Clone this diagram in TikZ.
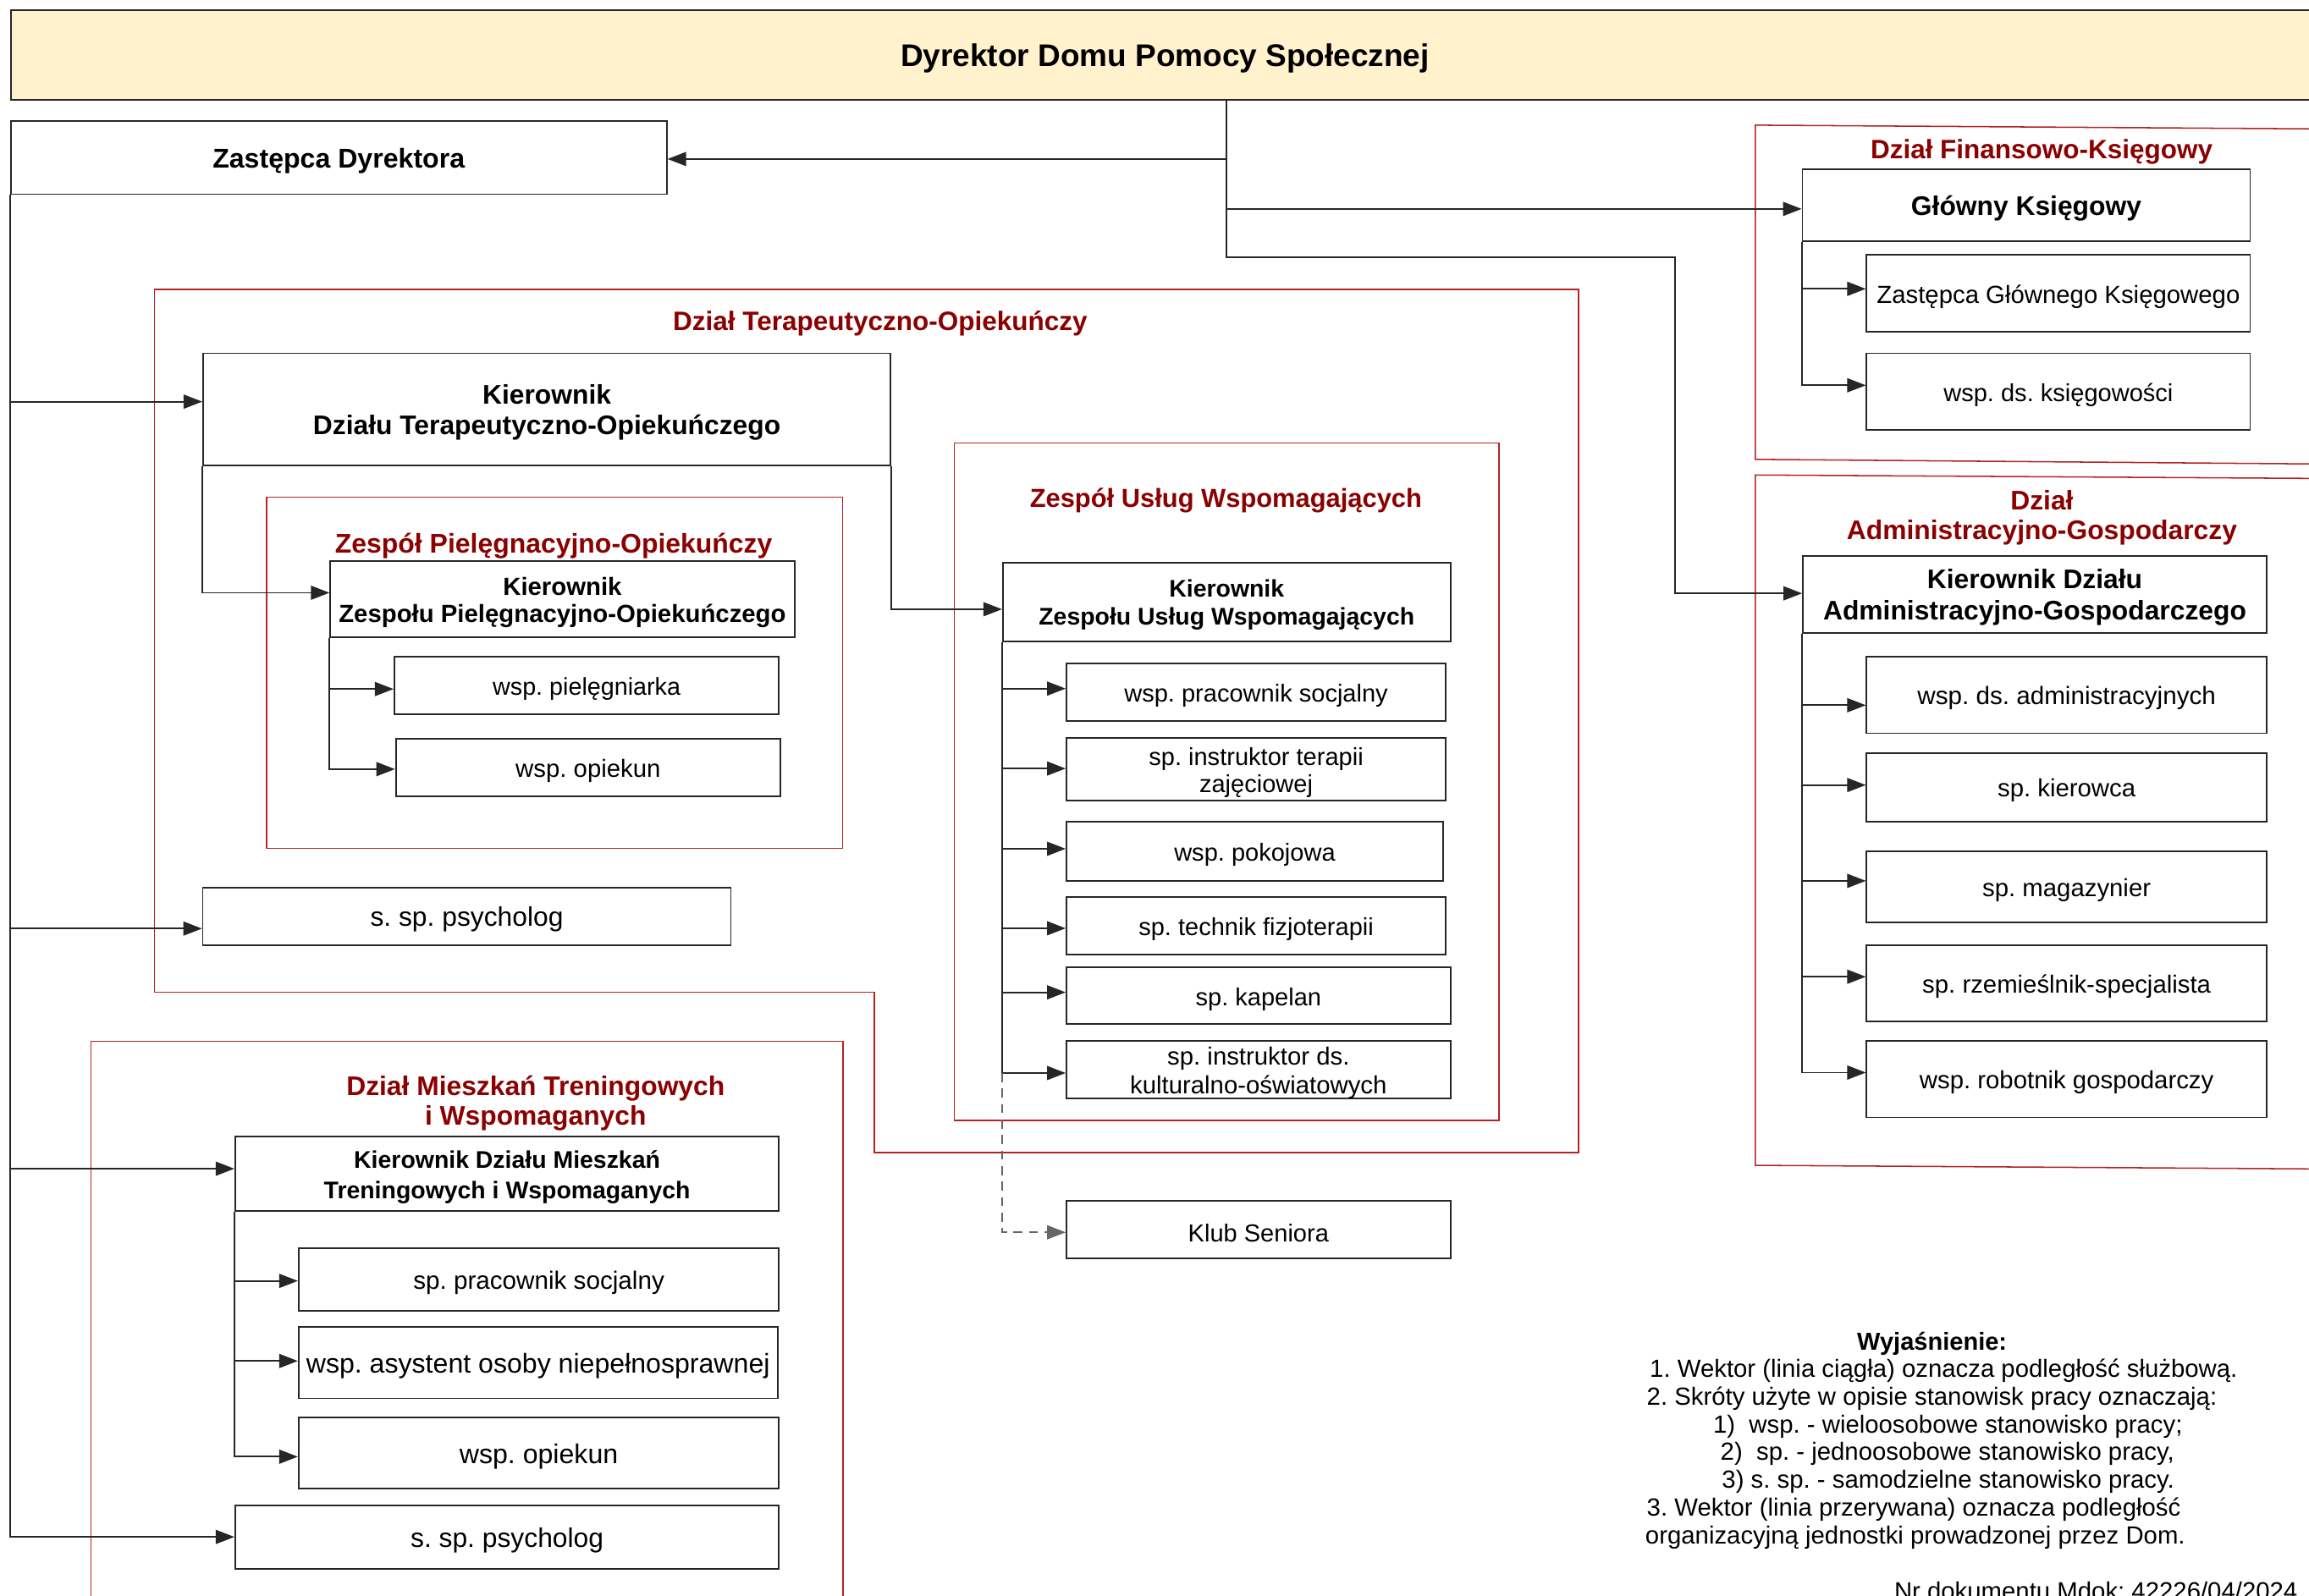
\documentclass[tikz,border=0pt]{standalone}
\usepackage{fontspec}
\setmainfont{Liberation Sans}
\usetikzlibrary{arrows.meta}
\definecolor{ttl}{RGB}{139,0,0}
\definecolor{frm}{RGB}{180,35,35}
\definecolor{yel}{RGB}{255,242,204}
\frenchspacing
\newcommand\fs[2]{\fontsize{#1pt}{#2pt}\selectfont}
\newcommand\bx[7][]{\node[box,minimum width={(#5-#3)*0.02cm},minimum height={(#6-#4)*0.02cm}] (#2) at ({(#3+#5)/2},{(#4+#6)/2}) {};
  \node[btxt,#1] (#2t) at ({(#3+#5)/2},{(#4+#6)/2+2.2}) {#7};}
\begin{document}
\begin{tikzpicture}[x=0.02cm,y=-0.02cm,
  box/.style={draw=black!85,line width=0.6pt,fill=white,inner sep=0pt},
  btxt/.style={inner sep=0pt,align=center},
  frame/.style={draw=frm,line width=0.5pt},
  conn/.style={draw=black!85,line width=0.6pt,-{Triangle[length=7.2pt,width=5.4pt]}},
  ttlt/.style={text=ttl,align=center,inner sep=0pt},
  lg/.style={inner sep=0pt,anchor=west,font=\fs{9.6}{11},text height=0.75em,text depth=0.22em}]
\useasboundingbox (0,0) rectangle (1568,1083.5);
\clip (0,0) rectangle (1568,1083.5);
\fill[white] (0,0) rectangle (1568,1083.5);

% department frames
\draw[frame] (1192,85) -- (1580,87.6) -- (1580,315.2) -- (1192,312) -- cycle;
\draw[frame] (1192,322.6) -- (1580,325) -- (1580,794) -- (1192,791.5) -- cycle;
\draw[frame] (104.8,196.6) -- (1072,196.6) -- (1072,782.8) -- (593.8,782.8) -- (593.8,674) -- (104.8,674) -- cycle;
\draw[frame] (181,337.6) rectangle (572.3,576.3);
\draw[frame] (648,301) rectangle (1018,761);
\draw[frame] (61.7,707.2) rectangle (572.5,1120);

% titles
\node[ttlt,font=\fs{10.3}{12}\bfseries] (tfin) at (1386.4,103.4) {Dział Finansowo-Księgowy};
\node[ttlt,font=\fs{10.4}{11.4}\bfseries] (tadm) at (1386.6,351.4) {Dział\\Administracyjno-Gospodarczy};
\node[ttlt,font=\fs{10.3}{12}\bfseries] (tdto) at (597.7,219.8) {Dział Terapeutyczno-Opiekuńczy};
\node[ttlt,font=\fs{10.45}{12}\bfseries] (tzpo) at (376,370.8) {Zespół Pielęgnacyjno-Opiekuńczy};
\node[ttlt,font=\fs{10.1}{12}\bfseries] (tzuw) at (832.5,339.8) {Zespół Usług Wspomagających};
\node[ttlt,font=\fs{10.4}{11.7}\bfseries] (tdmtw) at (363.7,749.4) {Dział Mieszkań Treningowych\\i Wspomaganych};

% director
\node[box,fill=yel,minimum width={(1575-7.3)*0.02cm},minimum height={(67.7-7)*0.02cm}] (dyr) at ({(7.3+1575)/2},{(7+67.7)/2}) {};
\node[btxt,font=\fs{12.1}{14}\bfseries] (dyrt) at ({(7.3+1575)/2},{(7+67.7)/2+2.2}) {Dyrektor Domu Pomocy Społecznej};

% boxes
\bx[font=\fs{10.5}{12}\bfseries]{zast}{7.3}{82.4}{452.8}{131.9}{Zastępca Dyrektora}

\bx[font=\fs{10.4}{12}\bfseries]{glk}{1224}{114.8}{1528}{163.8}{Główny Księgowy}
\bx[font=\fs{9.6}{11}]{f1}{1267.6}{173.1}{1528}{225.2}{Zastępca Głównego Księgowego}
\bx[font=\fs{9.5}{11}]{f2}{1267.6}{240}{1528}{292}{wsp. ds. księgowości}

\bx[font=\fs{10.4}{12}\bfseries]{kadm}{1224.3}{377.5}{1539.2}{429.7}{Kierownik Działu\\Administracyjno-Gospodarczego}
\bx[font=\fs{9.7}{11}]{a1}{1267.6}{446.1}{1539.2}{498}{wsp. ds. administracyjnych}
\bx[font=\fs{9.6}{11}]{a2}{1267.6}{511.5}{1539.2}{558}{sp. kierowca}
\bx[font=\fs{9.6}{11}]{a3}{1267.6}{578}{1539.2}{626.4}{sp. magazynier}
\bx[font=\fs{9.6}{11}]{a4}{1267.6}{642}{1539.2}{693.9}{sp. rzemieślnik-specjalista}
\bx[font=\fs{9.6}{11}]{a5}{1267.6}{707}{1539.2}{759}{wsp. robotnik gospodarczy}

\bx[font=\fs{10.4}{12}\bfseries]{kdto}{137.9}{240}{604.8}{316}{Kierownik\\Działu Terapeutyczno-Opiekuńczego}
\bx[font=\fs{9.6}{10.5}\bfseries]{kzpo}{224.3}{381.2}{539.5}{433}{Kierownik\\Zespołu Pielęgnacyjno-Opiekuńczego}
\bx[font=\fs{9.4}{11}]{p1}{267.8}{446.2}{529}{485.3}{wsp. pielęgniarka}
\bx[font=\fs{9.6}{11}]{p2}{268.8}{502}{530}{540.8}{wsp. opiekun}
\bx[font=\fs{10.4}{12}]{psy1}{137.7}{602.7}{496.3}{641.8}{s. sp. psycholog}

\bx[font=\fs{9.3}{10.9}\bfseries]{kzuw}{681}{382}{985}{435.5}{Kierownik\\Zespołu Usług Wspomagających}
\bx[font=\fs{9.5}{11}]{u1}{724.2}{450.5}{981.8}{489.7}{wsp. pracownik socjalny}
\bx[font=\fs{9.5}{10.4}]{u2}{724.2}{501.4}{981.8}{543.6}{sp. instruktor terapii\\zajęciowej}
\bx[font=\fs{9.5}{11}]{u3}{724.2}{557.9}{980}{598.2}{wsp. pokojowa}
\bx[font=\fs{9.5}{11}]{u4}{724.2}{609.2}{981.8}{648.4}{sp. technik fizjoterapii}
\bx[font=\fs{9.5}{11}]{u5}{724.2}{657.2}{985}{695.7}{sp. kapelan}
\bx[font=\fs{9.6}{11}]{u6}{724.2}{707}{985}{746}{sp. instruktor ds.\\kulturalno-oświatowych}
\bx[font=\fs{9.5}{11}]{klub}{724.2}{815.5}{985}{854.6}{Klub Seniora}

\bx[font=\fs{9.3}{11.7}\bfseries]{kdmtw}{159.7}{772}{529}{822.7}{Kierownik Działu Mieszkań\\Treningowych i Wspomaganych}
\bx[font=\fs{9.7}{11}]{m1}{202.8}{847.8}{529}{890.5}{sp. pracownik socjalny}
\bx[font=\fs{10.5}{12}]{m2}{202.8}{901.3}{528}{949.8}{wsp. asystent osoby niepełnosprawnej}
\bx[font=\fs{10.5}{12}]{m3}{202.8}{962.8}{529}{1011}{wsp. opiekun}
\bx[font=\fs{10.4}{12}]{psy2}{159.7}{1022.4}{529}{1065.5}{s. sp. psycholog}

% connectors from director
\draw[conn] (dyr.south -| 832.8,0) |- (zast.east |- 0,108);
\draw[conn] (dyr.south -| 832.8,0) |- (glk.west |- 0,141.9);
\draw[conn] (dyr.south -| 832.8,0) |- (1137.5,174.5) |- (kadm.west |- 0,403);

% left trunk
\draw[conn] (zast.south west) |- (kdto.west |- 0,272.8);
\draw[conn] (zast.south west) |- (psy1.west |- 0,630.7);
\draw[conn] (zast.south west) |- (kdmtw.west |- 0,793.8);
\draw[conn] (zast.south west) |- (psy2.west |- 0,1043.9);

% finance
\draw[conn] (glk.south west) |- (f1.west |- 0,196.2);
\draw[conn] (glk.south west) |- (f2.west |- 0,261.7);

% administration
\draw[conn] (kadm.south west) |- (a1.west |- 0,479);
\draw[conn] (kadm.south west) |- (a2.west |- 0,533.2);
\draw[conn] (kadm.south west) |- (a3.west |- 0,598.3);
\draw[conn] (kadm.south west) |- (a4.west |- 0,663.4);
\draw[conn] (kadm.south west) |- (a5.west |- 0,728.5);

% therapy department
\draw[conn] (kdto.south west) |- (kzpo.west |- 0,402.6);
\draw[conn] (kdto.south east) |- (kzuw.west |- 0,413.8);
\draw[conn] (kzpo.south west) |- (p1.west |- 0,468);
\draw[conn] (kzpo.south west) |- (p2.west |- 0,522.4);
\draw[conn] (kzuw.south west) |- (u1.west |- 0,467.7);
\draw[conn] (kzuw.south west) |- (u2.west |- 0,522);
\draw[conn] (kzuw.south west) |- (u3.west |- 0,576.5);
\draw[conn] (kzuw.south west) |- (u4.west |- 0,630.5);
\draw[conn] (kzuw.south west) |- (u5.west |- 0,674);
\draw[conn] (kzuw.south west) |- (u6.west |- 0,728.8);
\draw[conn,draw=black!60,dash pattern=on 3.5pt off 2.5pt] (kzuw.south west |- 0,728.8) |- (klub.west |- 0,837);

% training flats
\draw[conn] (kdmtw.south west) |- (m1.west |- 0,870);
\draw[conn] (kdmtw.south west) |- (m2.west |- 0,924.4);
\draw[conn] (kdmtw.south west) |- (m3.west |- 0,989.4);

% legend
\node[lg,anchor=center,font=\fs{9.5}{11}\bfseries] (leg0) at (1312,912.5) {Wyjaśnienie:};
\node[lg] (leg1) at (1120,931) {1. Wektor (linia ciągła) oznacza podległość służbową.};
\node[lg] (leg2) at (1118,949.5) {2. Skróty użyte w opisie stanowisk pracy oznaczają:};
\node[lg] (leg3) at (1163,968.5) {1)~ wsp. - wieloosobowe stanowisko pracy;};
\node[lg] (leg4) at (1168,987.1) {2)~ sp. - jednoosobowe stanowisko pracy,};
\node[lg] (leg5) at (1169,1006) {3) s. sp. - samodzielne stanowisko pracy.};
\node[lg] (leg6) at (1118,1025.2) {3. Wektor (linia przerywana) oznacza podległość};
\node[lg] (leg7) at (1117,1044.1) {organizacyjną jednostki prowadzonej przez Dom.};
\node[inner sep=0pt,anchor=north west,font=\fs{9.6}{11}] (leg8) at (1286,1074) {Nr dokumentu Mdok: 42226/04/2024};
\end{tikzpicture}
\end{document}
